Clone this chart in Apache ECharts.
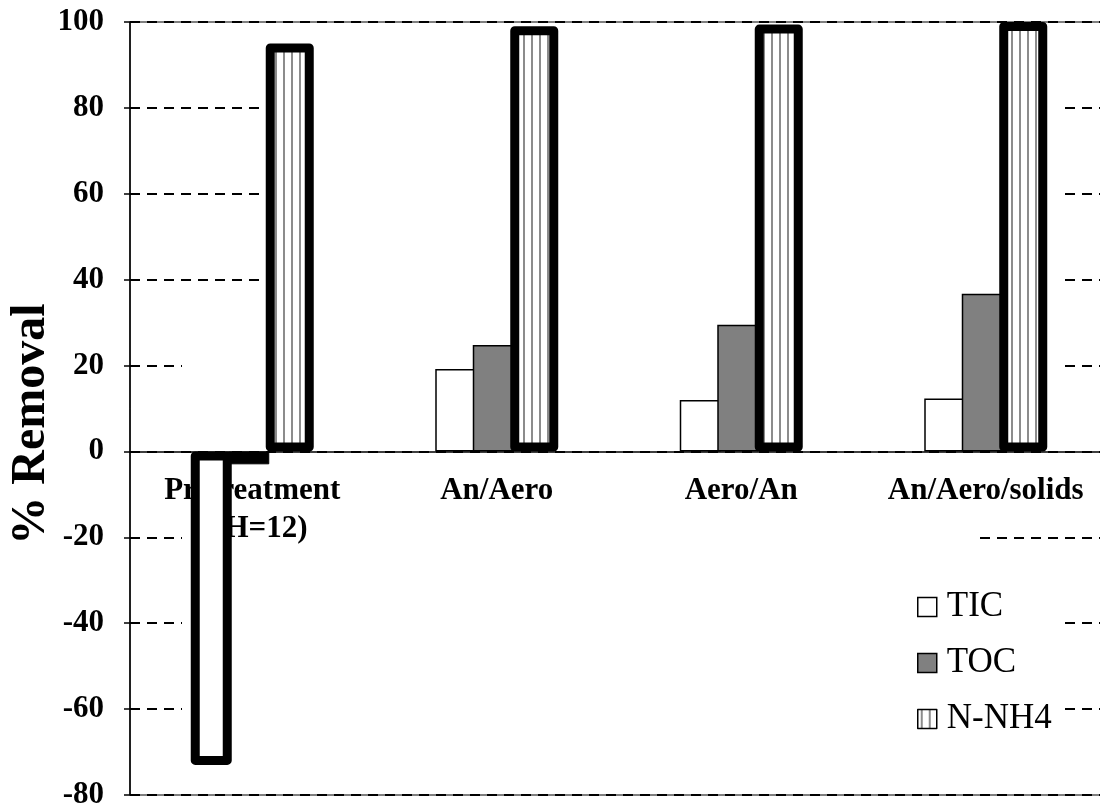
<!DOCTYPE html>
<html>
<head>
<meta charset="utf-8">
<script src="https://cdn.jsdelivr.net/npm/echarts@6/dist/echarts.min.js"></script>
<style>
html,body{margin:0;padding:0;background:#fff;}
#chart{width:1100px;height:806px;}
</style>
</head>
<body>
<div id="chart"></div>
<script>
// ---- data ----
const categories = ['Pretreatment\n(pH=12)', 'An/Aero', 'Aero/An', 'An/Aero/solids'];
const seriesNames = ['TIC', 'TOC', 'N-NH4'];
const ticValues = [-73, 19.2, 12, 12.3];
const tocValues = [-3, 24.8, 29.5, 36.7];
const nh4Values = [95, 99, 99.4, 100];
const yMin = -80, yMax = 100, yStep = 20;
const axisTitle = '% Removal';

// ---- layout / styles ----
const FONT = '"Liberation Serif", "Times New Roman", serif';
const GRID = { left: 130, top: 22, width: 978, height: 773 };
const zeroOffset = GRID.height * (0 - yMin) / (yMax - yMin);
const thick = { borderWidth: 9, borderColor: '#000', borderJoin: 'round' };
const thin = { borderWidth: 1.5, borderColor: '#000' };

function stripePattern() {
  const c = document.createElement('canvas');
  c.width = 8; c.height = 4;
  const g = c.getContext('2d');
  g.fillStyle = '#ffffff'; g.fillRect(0, 0, 8, 4);
  g.fillStyle = '#8c8c8c'; g.fillRect(3, 0, 2, 4);
  return { image: c, repeat: 'repeat' };
}
const stripes = stripePattern();

const ticData = ticValues.map((v, i) => i === 0 ? { value: v, itemStyle: thick } : v);
const tocData = tocValues.map((v, i) => i === 0 ? { value: v, itemStyle: { color: '#000', borderColor: '#000', borderWidth: 1 } } : v);
const nh4Data = nh4Values.map(v => ({ value: v, itemStyle: thick }));

const chart = echarts.init(document.getElementById('chart'), null, { renderer: 'canvas' });

// white occluders hiding the middle of the dashed gridlines (as in the source figure)
const occ = (x, y, w, h) => ({ type: 'rect', z: 1, silent: true, shape: { x, y, width: w, height: h }, style: { fill: '#fff' } });

chart.setOption({
  animation: false,
  backgroundColor: '#fff',
  grid: Object.assign({ show: true, borderColor: '#000', borderWidth: 1, backgroundColor: 'transparent', containLabel: false, outerBoundsMode: 'none' }, GRID),
  graphic: [
    occ(270, 27, 792, 303),
    occ(182, 330, 880, 115),
    occ(182, 460, 793, 330),
    occ(975, 560, 87, 230),
    {
      type: 'text', z: 5, x: 32, y: 424, rotation: Math.PI / 2,
      style: { text: axisTitle, font: 'bold 48px ' + FONT, fill: '#000', align: 'center', verticalAlign: 'middle' }
    }
  ],
  legend: {
    orient: 'vertical', left: 917, top: 588, padding: 0, itemGap: 18,
    itemWidth: 19, itemHeight: 19, icon: 'rect', z: 6,
    textStyle: { fontFamily: FONT, fontSize: 35, color: '#000', lineHeight: 38, padding: [0, 0, 0, 5] },
    data: [
      { name: seriesNames[0], itemStyle: { color: '#fff', borderColor: '#000', borderWidth: 1.5 } },
      { name: seriesNames[1], itemStyle: { color: '#808080', borderColor: '#000', borderWidth: 1.5 } },
      { name: seriesNames[2], itemStyle: { color: stripes, borderColor: '#000', borderWidth: 1.5 } }
    ]
  },
  xAxis: {
    type: 'category', data: categories, z: 2, position: 'bottom', offset: -zeroOffset,
    axisLine: { onZero: false, lineStyle: { color: '#000', width: 1.5 } },
    axisTick: { show: false },
    axisLabel: { interval: 0, margin: 21, fontFamily: FONT, fontWeight: 'bold', fontSize: 31, color: '#000', lineHeight: 38, hideOverlap: false },
    splitLine: { show: false }
  },
  yAxis: {
    type: 'value', min: yMin, max: yMax, interval: yStep, z: 0,
    axisLine: { show: true, onZero: false, lineStyle: { color: '#000', width: 1.5 } },
    axisTick: { show: true, inside: false, length: 6, lineStyle: { color: '#000', width: 1.5 } },
    axisLabel: { margin: 26, fontFamily: FONT, fontWeight: 'bold', fontSize: 31, color: '#000' },
    splitLine: { show: true, lineStyle: { color: '#000', width: 2, type: [10, 7] } }
  },
  series: [
    { name: seriesNames[0], type: 'bar', data: ticData, barWidth: 41, barGap: '-8.54%', z: 3,
      itemStyle: Object.assign({ color: '#fff' }, thin) },
    { name: seriesNames[1], type: 'bar', data: tocData, barWidth: 41, barGap: '-8.54%', z: 3,
      itemStyle: Object.assign({ color: '#808080' }, thin) },
    { name: seriesNames[2], type: 'bar', data: nh4Data, barWidth: 48, barGap: '-8.54%', z: 4,
      itemStyle: Object.assign({ color: stripes }, thick) }
  ]
});
</script>
</body>
</html>
